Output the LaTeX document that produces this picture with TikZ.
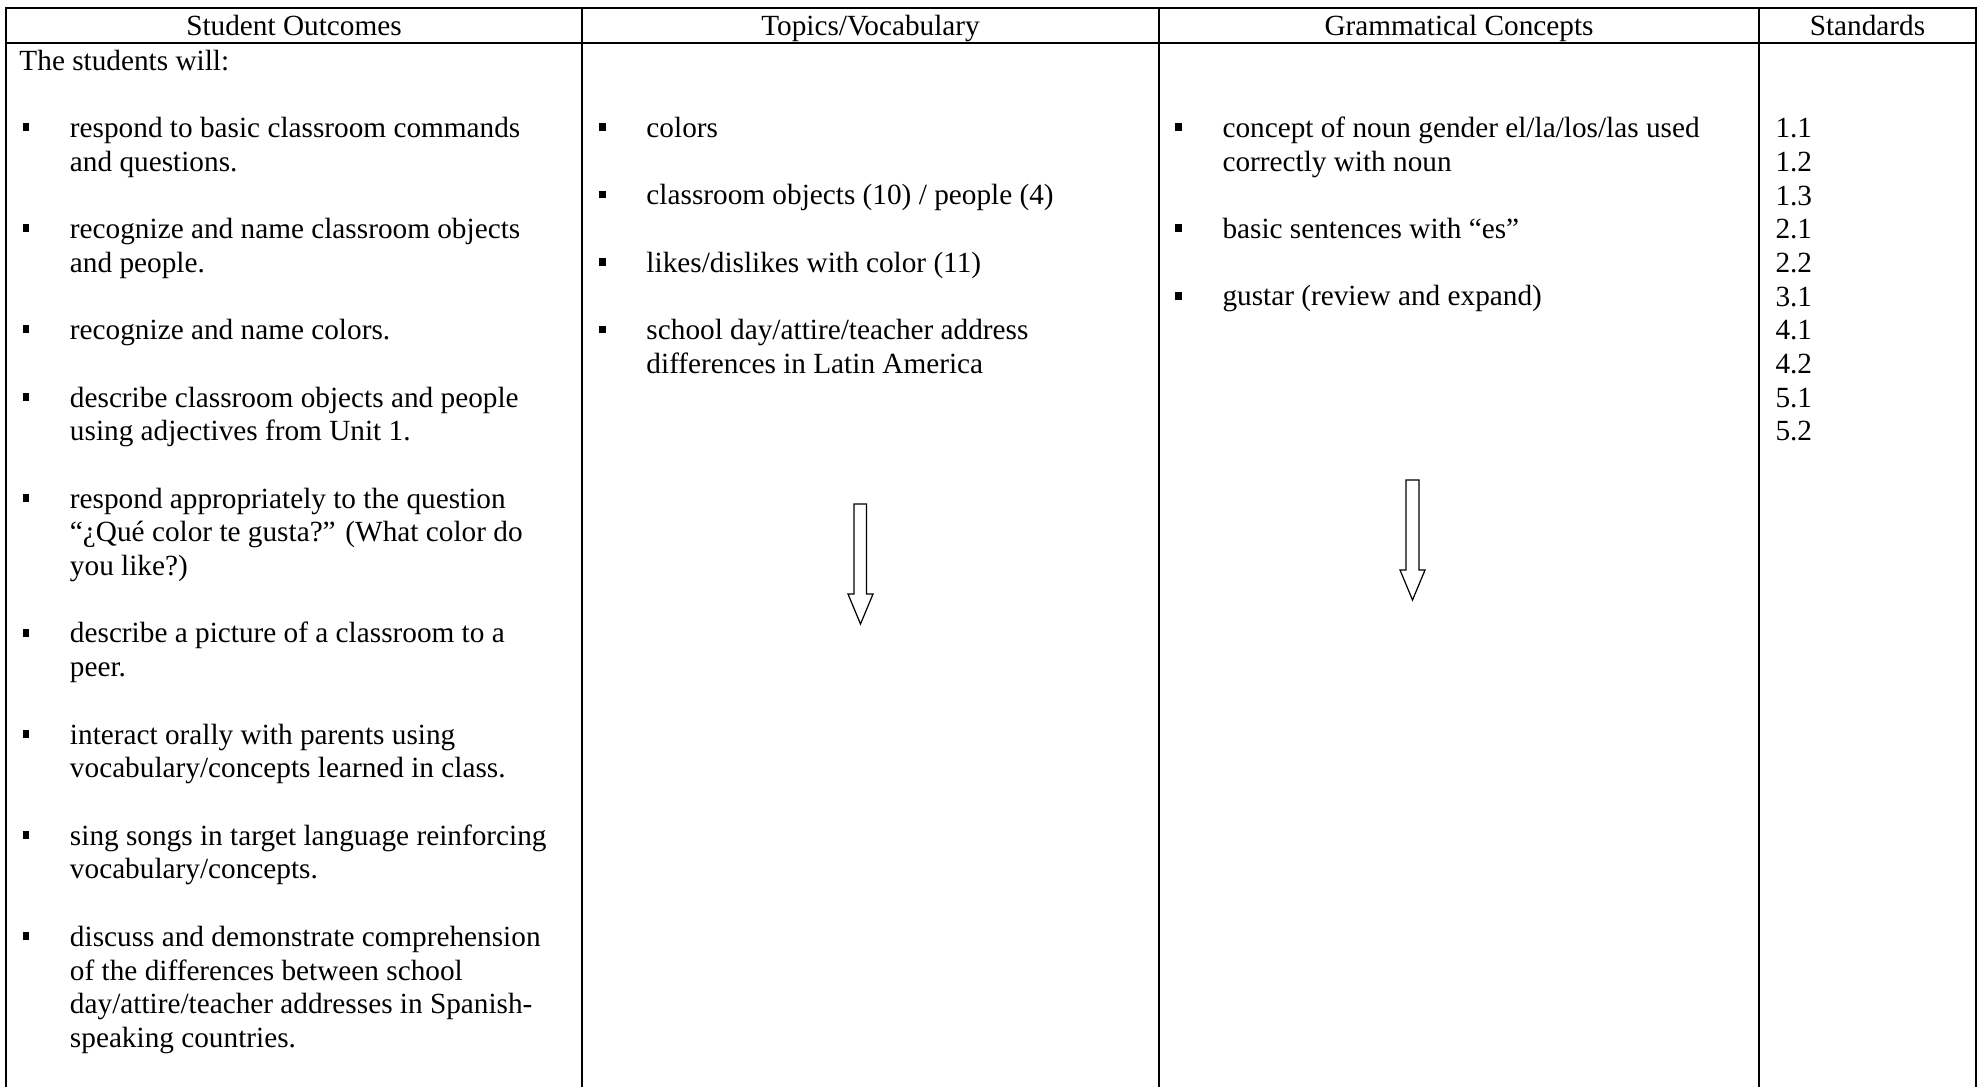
\documentclass[tikz,border=0pt]{standalone}
\usepackage{fontspec}
\setmainfont{Liberation Serif}
\usepackage{tikz}
\usetikzlibrary{positioning}

\begin{document}
\begin{tikzpicture}[
  x=0.41pt, y=-0.41pt,
  grid/.style={line width=0.8pt, black},
  head/.style={anchor=base, inner sep=0pt, font=\fontsize{12pt}{13.8pt}\selectfont},
  item/.style={anchor=base west, inner sep=0pt, align=left,
               font=\fontsize{12pt}{13.8pt}\selectfont},
  bul/.style={fill, inner sep=0pt, minimum width=2.6pt, minimum height=3.2pt},
  blockarr/.style={draw, line width=0.5pt, fill=white}
]
\useasboundingbox (0,0) rectangle (1981,1087);

% table lines
\draw[grid] (6,1087) -- (6,8) -- (1976,8) -- (1976,1087);
\draw[grid] (6,43) -- (1976,43);
\draw[grid] (582,8) -- (582,1087);
\draw[grid] (1159,8) -- (1159,1087);
\draw[grid] (1759,8) -- (1759,1087);

% headers
\node[head] (hout) at (294,35)    {Student Outcomes};
\node[head] (htop) at (870.5,35)  {Topics/Vocabulary};
\node[head] (hgra) at (1459,35)   {Grammatical Concepts};
\node[head] (hstd) at (1867.5,35) {Standards};

% student outcomes (placed at the baseline of the last line)
\node[item] (intro) at (19,70) {The students will:};
\node[item] (o1) at (69.5,171.1)  {respond to basic classroom commands\\and questions.};
\node[item] (o2) at (69.5,272.2)  {recognize and name classroom objects\\and people.};
\node[item] (o3) at (69.5,339.6)  {recognize and name colors.};
\node[item] (o4) at (69.5,440.7)  {describe classroom objects and people\\using adjectives from Unit 1.};
\node[item] (o5) at (69.5,575.5)  {respond appropriately to the question\\“¿Qué color te gusta?” (What color do\\you like?)};
\node[item] (o6) at (69.5,676.6)  {describe a picture of a classroom to a\\peer.};
\node[item] (o7) at (69.5,777.7)  {interact orally with parents using\\vocabulary/concepts learned in class.};
\node[item] (o8) at (69.5,878.8)  {sing songs in target language reinforcing\\vocabulary/concepts.};
\node[item] (o9) at (69.5,1047.3) {discuss and demonstrate comprehension\\of the differences between school\\day/attire/teacher addresses in Spanish-\\speaking countries.};

\node[bul, left=16.3pt of o1.base west, yshift=18pt]   (ob1) {};
\node[bul, left=16.3pt of o2.base west, yshift=18pt]   (ob2) {};
\node[bul, left=16.3pt of o3.base west, yshift=4.2pt]  (ob3) {};
\node[bul, left=16.3pt of o4.base west, yshift=18pt]   (ob4) {};
\node[bul, left=16.3pt of o5.base west, yshift=31.8pt] (ob5) {};
\node[bul, left=16.3pt of o6.base west, yshift=18pt]   (ob6) {};
\node[bul, left=16.3pt of o7.base west, yshift=18pt]   (ob7) {};
\node[bul, left=16.3pt of o8.base west, yshift=18pt]   (ob8) {};
\node[bul, left=16.3pt of o9.base west, yshift=45.6pt] (ob9) {};

% topics / vocabulary
\node[item] (t1) at (646,137.4) {colors};
\node[item] (t2) at (646,204.8) {classroom objects (10) / people (4)};
\node[item] (t3) at (646,272.2) {likes/dislikes with color (11)};
\node[item] (t4) at (646,373.3) {school day/attire/teacher address\\differences in Latin America};

\node[bul, left=16.3pt of t1.base west, yshift=4.2pt] (tb1) {};
\node[bul, left=16.3pt of t2.base west, yshift=4.2pt] (tb2) {};
\node[bul, left=16.3pt of t3.base west, yshift=4.2pt] (tb3) {};
\node[bul, left=16.3pt of t4.base west, yshift=18pt]  (tb4) {};

% grammatical concepts
\node[item] (g1) at (1222,171.1) {concept of noun gender el/la/los/las used\\correctly with noun};
\node[item] (g2) at (1222,238.5) {basic sentences with “es”};
\node[item] (g3) at (1222,305.9) {gustar (review and expand)};

\node[bul, left=16.3pt of g1.base west, yshift=18pt]  (gb1) {};
\node[bul, left=16.3pt of g2.base west, yshift=4.2pt] (gb2) {};
\node[bul, left=16.3pt of g3.base west, yshift=4.2pt] (gb3) {};

% standards
\node[item] (std) at (1775,440.7) {1.1\\1.2\\1.3\\2.1\\2.2\\3.1\\4.1\\4.2\\5.1\\5.2};

% down arrows
\draw[blockarr] (854,504) -- (866.5,504) -- (866.5,594) -- (873,594)
  -- (860.5,624) -- (848,594) -- (854,594) -- cycle;
\draw[blockarr] (1406,480) -- (1419,480) -- (1419,570) -- (1425,570)
  -- (1412.5,600) -- (1400,570) -- (1406,570) -- cycle;

\end{tikzpicture}
\end{document}
